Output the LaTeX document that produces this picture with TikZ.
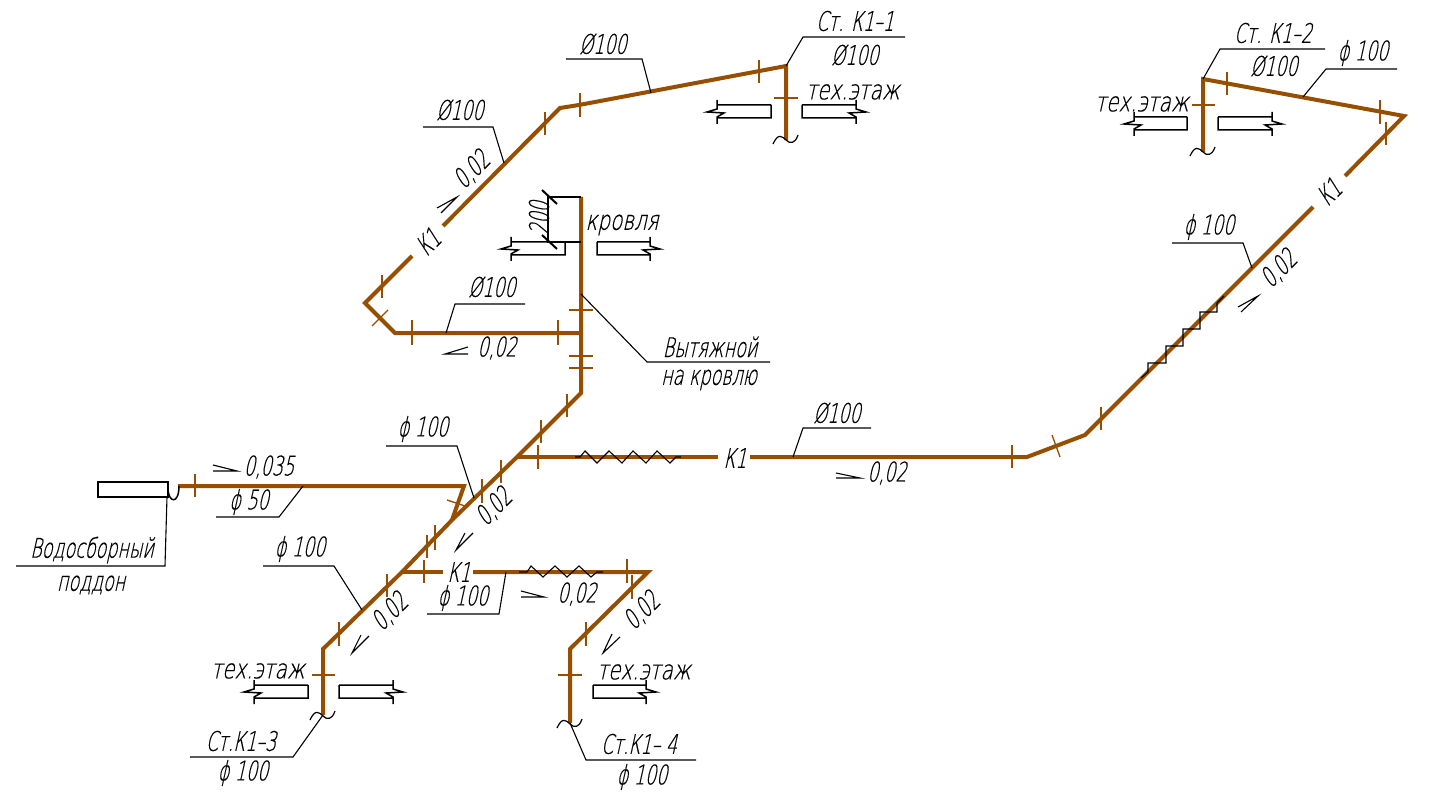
\documentclass[tikz,border=0pt]{standalone}
\usepackage{fontspec}
\newfontfamily\gost[FakeSlant=0.22,FakeStretch=0.65,FakeBold=0.4]{DejaVu Sans ExtraLight}
\newfontfamily\gostw[FakeSlant=0.22,FakeStretch=0.74,FakeBold=0.4]{DejaVu Sans ExtraLight}
\definecolor{pipecol}{RGB}{150,78,0}
\tikzstyle{pipe} = [line width=4pt, draw=pipecol, line join=miter]
\tikzstyle{tick} = [line width=1.3pt, draw=pipecol]
\tikzstyle{leader} = [line width=1.1pt, draw=black]
\tikzstyle{slabline} = [line width=1.5pt, draw=black]
\tikzstyle{txt} = [inner sep=0pt, font=\gost\fontsize{27}{27}\selectfont]
\tikzstyle{txtw} = [inner sep=0pt, font=\gostw\fontsize{27}{27}\selectfont]
\tikzstyle{txtd} = [txt, rotate=45]
\newcommand{\slab}[4]{\draw[slabline, shift={(#1,#2)}] (0,0) -- (#3-#1,0) (0,0) -- (0,13) -- (#3-#1,13)
	(#3-#1,-5) -- (#3-#1,4) -- (#3-#1+10*#4,7) -- (#3-#1-7*#4,8) -- (#3-#1,12) -- (#3-#1,19);}
\newcommand{\wave}[2]{\draw[leader, line width=1.2pt, shift={(#1,#2)}] (-13,4) .. controls (-8,-7) and (-4,-4) .. (0,0) .. controls (4,4) and (9,4) .. (12,-5);}
\begin{document}
\begin{tikzpicture}[x=1pt, y=-1pt]
		\useasboundingbox (0,0) rectangle (1431,799);
		% pipe points
		\coordinate (r1top) at (786,66);
		\coordinate (r1end) at (786,140);
		\coordinate (a1) at (579,105);
		\coordinate (a2) at (560,108);
		\coordinate (a3) at (443,226);
		\coordinate (a4) at (412,256);
		\coordinate (a5) at (365,303);
		\coordinate (a6) at (395,333);
		\coordinate (v1) at (581,333);
		\coordinate (vtop) at (581,197);
		\coordinate (v2) at (581,393);
		\coordinate (j1) at (517,457);
		\coordinate (j2) at (452,520);
		\coordinate (j3) at (402,572);
		\coordinate (s3a) at (323,649);
		\coordinate (s3b) at (323,715);
		\coordinate (m1) at (718,457);
		\coordinate (m2) at (750,457);
		\coordinate (m3) at (1027,457);
		\coordinate (m4) at (1085,435);
		\coordinate (m5) at (1313,207);
		\coordinate (m6) at (1345,176);
		\coordinate (m7) at (1404,116);
		\coordinate (r2top) at (1203,79);
		\coordinate (r2end) at (1203,152);
		\coordinate (b1) at (443,572);
		\coordinate (b2) at (473,572);
		\coordinate (b3) at (648,572);
		\coordinate (b4) at (570,649);
		\coordinate (b5) at (570,723);
		\coordinate (d1) at (178,486);
		\coordinate (d2) at (464,486);
		% pipes
		\draw [pipe] (r1end) -- (r1top) -- (a1) -- (a2) -- (a3);
		\draw [pipe] (a4) -- (a5) -- (a6) -- (v1);
		\draw [pipe] (vtop) -- (v2) -- (j1) -- (j2) -- (j3) -- (s3a) -- (s3b);
		\draw [pipe] (j1) -- (m1);
		\draw [pipe] (m2) -- (m3) -- (m4) -- (m5);
		\draw [pipe] (m6) -- (m7) -- (r2top) -- (r2end);
		\draw [pipe] (j3) -- (b1);
		\draw [pipe] (b2) -- (b3) -- (b4) -- (b5);
		\draw [pipe] (d1) -- (d2) -- (j2);
		% ticks across the pipes
		\foreach \x/\ya/\yb in {545/112/135, 580/93/117, 759/60/83, 382/275/298, 412/320/345, 558/320/345,
			567/394/417, 541/420/443, 538/445/469, 501/460/483, 482/479/503, 435/525/550, 427/535/558,
			387/574/597, 339/622/646, 195/474/497, 424/560/583, 627/559/583, 632/575/599, 586/622/646,
			1227/72/95, 1380/100/124, 1386/122/145, 1012/445/468, 1101/407/430}
			\draw [tick] (\x,\ya) -- (\x,\yb);
		\foreach \xa/\xb/\y in {774/798/98, 569/593/310, 569/593/356, 569/593/368, 312/335/675, 558/582/675, 1192/1215/105}
			\draw [tick] (\xa,\y) -- (\xb,\y);
		\draw [tick] (372,326) -- (388,310);
		\draw [tick] (447,500) -- (465,506);
		\draw [tick] (1052,435) -- (1060,457);
		% slabs
		\slab{771}{105}{717}{-1}
		\slab{802}{105}{856}{1}
		\slab{1187}{117}{1134}{-1}
		\slab{1218}{117}{1272}{1}
		\slab{565}{242}{511}{-1}
		\slab{597}{242}{650}{1}
		\slab{308}{685}{254}{-1}
		\slab{339}{685}{393}{1}
		\slab{593}{685}{646}{1}
		% pipe ends
		\wave{786}{140}
		\wave{1203}{152}
		\wave{323}{716}
		\wave{570}{724}
		% water tray
		\draw [slabline] (98,482) rectangle (168,497);
		\draw [slabline] (168,488) .. controls (168,503) and (179,505) .. (179,486);
		% supports
		\draw [leader] (519,572) -- (527,572) -- (531,566) -- (543,577) -- (555,566) -- (567,577) -- (579,566) -- (591,577) -- (597,572) -- (603,572);
		\draw [leader] (575,457) -- (580,457) -- (585,451) -- (597,463) -- (609,451) -- (622,463) -- (633,451) -- (646,463) -- (657,451) -- (670,463) -- (676,457) -- (681,457);
		\draw [leader] (1141,378) -- (1148,372) -- (1148,363) -- (1166,363) -- (1166,346) -- (1183,346) -- (1183,329) -- (1200,329) -- (1200,312) -- (1217,312) -- (1217,303) -- (1224,296);
		% slope marks
		\draw [leader] (437,208) -- (457,197) -- (441,213);
		\draw [leader] (468,347) -- (445,354) -- (468,354);
		\draw [leader] (213,465) -- (237,471) -- (213,471);
		\draw [leader] (521,591) -- (544,597) -- (521,597);
		\draw [leader] (836,473) -- (860,478) -- (836,478);
		\draw [leader] (369,636) -- (352,653) -- (361,635);
		\draw [leader] (473,533) -- (456,550) -- (465,533);
		\draw [leader] (620,637) -- (603,653) -- (612,634);
		\draw [leader] (1238,307) -- (1258,296) -- (1241,312);
		% leaders
		\draw [leader] (566,59) -- (642,59) -- (651,93);
		\draw [leader] (r1top) -- (803,37) -- (905,37);
		\draw [leader] (423,127) -- (493,127) -- (504,163);
		\draw [leader] (525,304) -- (455,304) -- (446,333);
		\draw [leader] (581,294) -- (647,362) -- (770,362);
		\draw [leader] (386,446) -- (457,446) -- (474,498);
		\draw [leader] (303,486) -- (279,517) -- (216,517);
		\draw [leader] (167,497) -- (165,566) -- (16,566);
		\draw [leader] (263,566) -- (334,566) -- (362,610);
		\draw [leader] (506,572) -- (499,614) -- (427,614);
		\draw [leader] (b5) -- (586,760) -- (696,760);
		\draw [leader] (s3b) -- (293,757) -- (190,757);
		\draw [leader] (r2top) -- (1220,49) -- (1325,49);
		\draw [leader] (1303,97) -- (1326,69) -- (1397,69);
		\draw [leader] (1172,243) -- (1243,243) -- (1252,268);
		\draw [leader] (793,457) -- (803,428) -- (871,428);
		% dimension
		\draw [leader] (vtop) -- (548,197) -- (548,242) -- (581,242);
		\draw [line width=2pt] (542,190) -- (557,204);
		\draw [line width=2pt] (542,235) -- (557,249);
		% texts
		\node (d100a) [txt] at (603,44) {Ø100};
		\node (st1) [txt] at (855,21) {Ст. К1–1};
		\node (st1d) [txt] at (855,55) {Ø100};
		\node (floor1) [txtw] at (853,92) {тех.этаж};
		\node (d100b) [txt] at (460,110) {Ø100};
		\node (i1) [txtd] at (472,170) {0,02};
		\node (k1a) [txtd] at (428,242) {К1};
		\node (h200) [txt, rotate=90] at (539,218) {200};
		\node (roof) [txtw] at (622,225) {кровля};
		\node (d100c) [txt] at (492,287) {Ø100};
		\node (i2) [txt] at (497,348) {0,02};
		\node (vent1) [txt] at (710,347) {Вытяжной};
		\node (vent2) [txt] at (709,380) {на кровлю};
		\node (d100d) [txt] at (423,429) {ϕ 100};
		\node (i3) [txt] at (269,467) {0,035};
		\node (d50) [txt] at (249,502) {ϕ 50};
		\node (tray1) [txt] at (92,550) {Водосборный};
		\node (tray2) [txt] at (91,585) {поддон};
		\node (d100e) [txt] at (300,549) {ϕ 100};
		\node (i4) [txtd] at (390,612) {0,02};
		\node (i5) [txtd] at (494,507) {0,02};
		\node (k1b) [txt] at (459,572) {К1};
		\node (d100f) [txt] at (463,598) {ϕ 100};
		\node (i6) [txt] at (577,594) {0,02};
		\node (i7) [txtd] at (642,611) {0,02};
		\node (floor4) [txtw] at (644,672) {тех.этаж};
		\node (st4) [txt] at (639,744) {Ст.К1– 4};
		\node (st4d) [txt] at (642,777) {ϕ 100};
		\node (st3) [txt] at (241,741) {Ст.К1–3};
		\node (st3d) [txt] at (243,773) {ϕ 100};
		\node (floor3) [txtw] at (258,671) {тех.этаж};
		\node (st2) [txt] at (1273,33) {Ст. К1–2};
		\node (st2d) [txt] at (1274,66) {Ø100};
		\node (d100g) [txt] at (1363,53) {ϕ 100};
		\node (floor2) [txtw] at (1142,104) {тех.этаж};
		\node (k1c) [txtd] at (1329,192) {К1};
		\node (d100h) [txt] at (1209,227) {ϕ 100};
		\node (i8) [txtd] at (1279,269) {0,02};
		\node (d100i) [txt] at (837,413) {Ø100};
		\node (k1d) [txt] at (735,458) {К1};
		\node (i9) [txt] at (887,473) {0,02};
	\end{tikzpicture}
\end{document}
